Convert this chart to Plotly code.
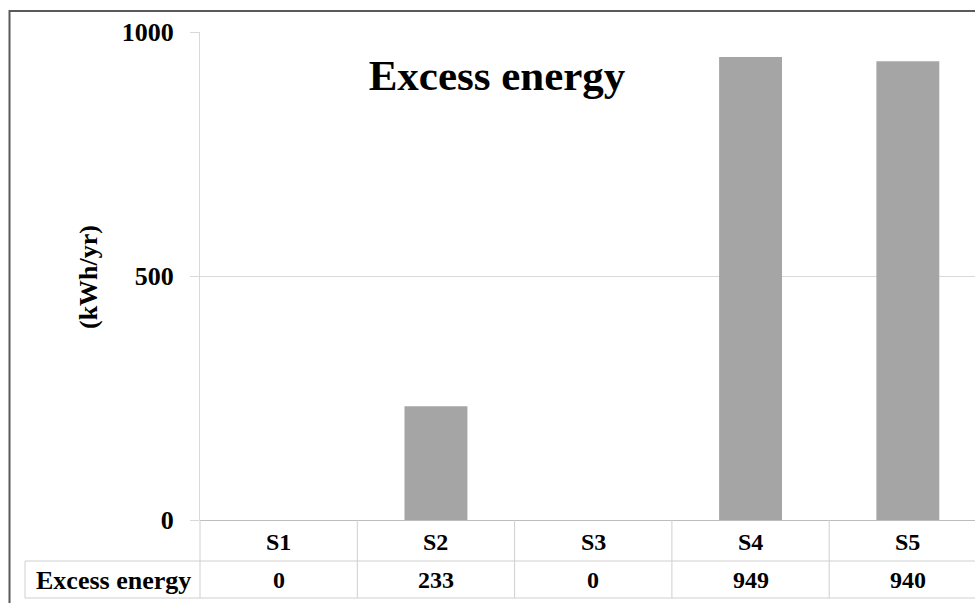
import plotly.graph_objects as go

# ---- data ----
categories = ["S1", "S2", "S3", "S4", "S5"]
excess_energy = [0, 233, 0, 949, 940]
series_name = "Excess energy"
chart_title = "Excess energy"
y_title = "(kWh/yr)"
y_ticks = [0, 500, 1000]

# ---- layout geometry (pixels) ----
W, H = 975, 603
L, R, T, B = 200, 0, 32, 83
PW, PH = W - L - R, H - T - B
CAT_W = 157.3  # pixel width of one category


def px_x(p):
    return (p - L) / PW


def px_y(p):
    return (H - B - p) / PH


FONT = "Liberation Serif"
GRID = "#d9d9d9"
TABLE = "#cfcfcf"


def bold(size):
    return dict(size=size, family=FONT, weight="bold", color="black")


fig = go.Figure()
fig.add_trace(go.Bar(
    x=list(range(len(categories))),
    y=excess_energy,
    name=series_name,
    marker=dict(color="#a5a5a5", line=dict(width=0)),
    width=0.4,
    showlegend=False,
))

x_max = -0.5 + PW / CAT_W

fig.update_layout(
    width=W, height=H,
    margin=dict(l=L, r=R, t=T, b=B, pad=0),
    paper_bgcolor="white", plot_bgcolor="white",
    font=bold(20),
    title=dict(text="<b>%s</b>" % chart_title, font=bold(43),
               xref="paper", x=px_x(497), xanchor="center",
               yref="container", y=1 - 75 / H, yanchor="middle"),
    xaxis=dict(range=[-0.5, x_max], showticklabels=False, showgrid=False,
               zeroline=False, showline=False, ticks="", fixedrange=True),
    yaxis=dict(range=[0, 1000], tickvals=y_ticks, ticktext=["<b>%d</b>" % v for v in y_ticks],
               ticks="outside", ticklen=9, tickcolor=GRID, tickwidth=1,
               tickfont=bold(26),
               ticklabelstandoff=11,
               showgrid=True, gridcolor=GRID, gridwidth=1,
               zeroline=True, zerolinecolor="#bdbdbd", zerolinewidth=1,
               showline=True, linecolor=GRID, linewidth=1),
    bargap=0.6,
)

# y-axis title
fig.add_annotation(text="<b>%s</b>" % y_title, xref="paper", yref="paper",
                   x=px_x(88), y=px_y(277), textangle=-90, showarrow=False,
                   font=bold(26), xanchor="center", yanchor="middle")

# ---- data table ----
shapes = []
for i in range(len(categories)):
    xv = i + 0.5
    if xv <= x_max:
        shapes.append(dict(type="line", xref="x", yref="paper", x0=xv, x1=xv,
                           y0=px_y(520), y1=px_y(598), line=dict(color=TABLE, width=1)))
shapes.append(dict(type="line", xref="paper", yref="paper", x0=0, x1=0,
                   y0=px_y(520), y1=px_y(598), line=dict(color=TABLE, width=1)))
shapes.append(dict(type="line", xref="paper", yref="paper", x0=px_x(25), x1=px_x(25),
                   y0=px_y(561), y1=px_y(598), line=dict(color=TABLE, width=1)))
for yp in (561, 598):
    shapes.append(dict(type="line", xref="paper", yref="paper", x0=px_x(25), x1=1.05,
                       y0=px_y(yp), y1=px_y(yp), line=dict(color=TABLE, width=1)))
shapes.append(dict(type="rect", xref="paper", yref="paper", x0=px_x(9.5), x1=1.2,
                   y0=-0.4, y1=px_y(11), line=dict(color="#5a5a5a", width=2),
                   fillcolor="rgba(0,0,0,0)", layer="above"))
fig.update_layout(shapes=shapes)

for i, (cat, val) in enumerate(zip(categories, excess_energy)):
    fig.add_annotation(text="<b>%s</b>" % cat, xref="x", yref="paper", x=i, y=px_y(542),
                       showarrow=False, font=bold(24), xanchor="center", yanchor="middle")
    fig.add_annotation(text="<b>%d</b>" % val, xref="x", yref="paper", x=i, y=px_y(580),
                       showarrow=False, font=bold(24), xanchor="center", yanchor="middle")

fig.add_annotation(text="<b>%s</b>" % series_name, xref="paper", yref="paper",
                   x=px_x(113), y=px_y(580), showarrow=False, font=bold(26),
                   xanchor="center", yanchor="middle")

fig.write_html("out.html")
